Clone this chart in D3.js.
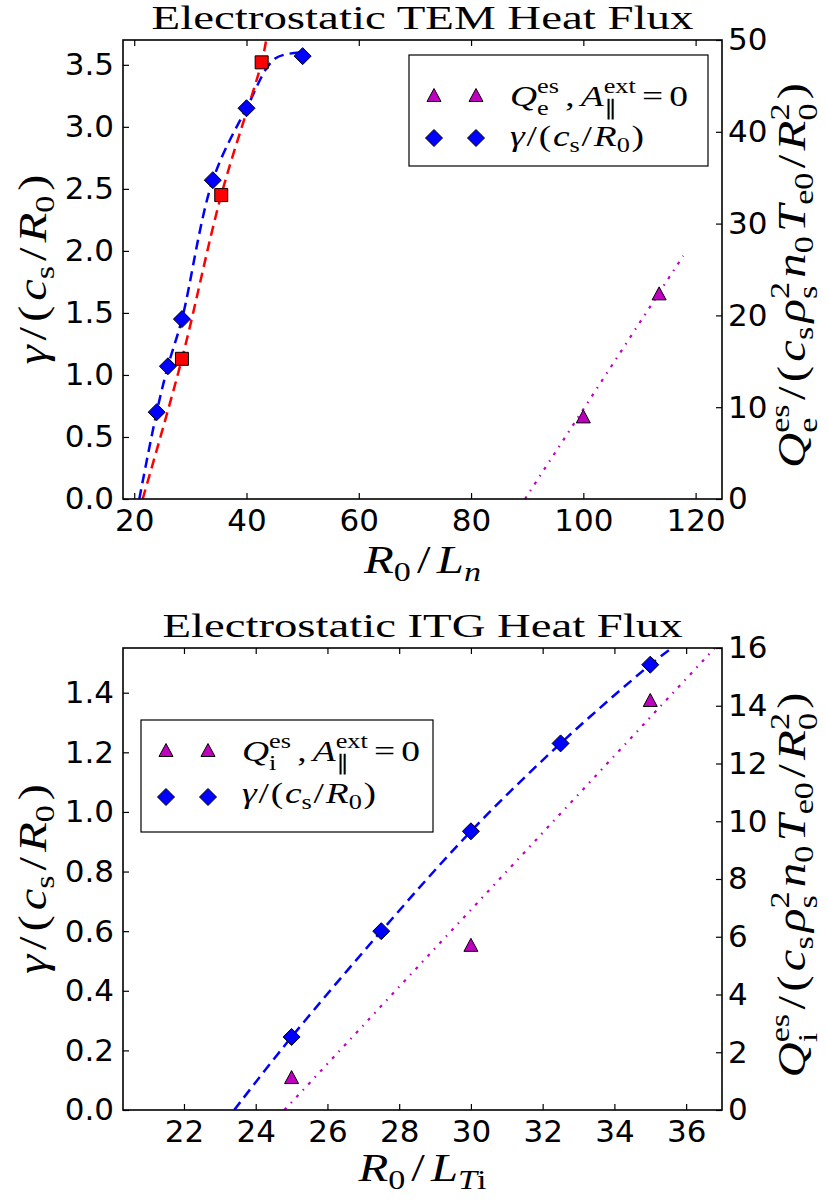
<!DOCTYPE html>
<html>
<head>
<meta charset="utf-8">
<script src="https://cdn.jsdelivr.net/npm/d3@7"></script>
<style>
  body { margin: 0; background: #fff; }
  .tick text { font-family: "DejaVu Sans", sans-serif; font-size: 31px; fill: #000; }
  .math text { font-family: "Liberation Serif", serif; fill: #000; white-space: pre; }
</style>
</head>
<body>
<svg id="chart" width="828" height="1203"></svg>
<script>
// ---- data ----
// TEM panel
var temGammaX = [24, 26, 28.5, 34, 40, 50];
var temGammaY = [0.70, 1.07, 1.45, 2.57, 3.15, 3.57];
var temSquareX = [28.5, 35.5, 42.7];
var temSquareY = [1.13, 2.45, 3.52];
var temFluxX = [100, 113.5];
var temFluxY = [9.0, 22.4];
var temGammaFitX = [20.9, 24, 26, 28.5, 34, 40, 45.1, 50];
var temGammaFitY = [0, 0.70, 1.07, 1.45, 2.57, 3.15, 3.55, 3.6];
var temSquareFitX = [21.5, 28.5, 35.5, 42.7, 43.5];
var temSquareFitY = [0, 1.13, 2.45, 3.52, 3.7];
var temFluxFitX = [89.6, 117.8];
var temFluxFitY = [0, 26.5];
var temXTicks = [20, 40, 60, 80, 100, 120];
var temYTicks = [0, 0.5, 1.0, 1.5, 2.0, 2.5, 3.0, 3.5];
var temY2Ticks = [0, 10, 20, 30, 40, 50];

// ITG panel
var itgGammaX = [25, 27.5, 30, 32.5, 35];
var itgGammaY = [0.245, 0.60, 0.935, 1.23, 1.494];
var itgFluxX = [25, 30, 35];
var itgFluxY = [1.14, 5.72, 14.2];
var itgGammaFitX = [23.4, 25, 27.5, 30, 32.5, 35, 35.6];
var itgGammaFitY = [0, 0.245, 0.60, 0.935, 1.23, 1.494, 1.55];
var itgFluxFitX = [24.8, 36.8];
var itgFluxFitY = [0, 16];
var itgXTicks = [22, 24, 26, 28, 30, 32, 34, 36];
var itgYTicks = [0, 0.2, 0.4, 0.6, 0.8, 1.0, 1.2, 1.4];
var itgY2Ticks = [0, 2, 4, 6, 8, 10, 12, 14, 16];

var blue = "#0000ff", red = "#ff0000", magenta = "#bf00bf";

var svg = d3.select("#chart");
var axLeft = 123, axRight = 722;

// lay out a small "math" string from segments, baseline at y=0.
// len = target width; reached with a slight stretch plus extra space before main-size symbols
function mathText(parent, segs, size, anchor, len) {
  var outer = parent.append("g").attr("class", "math");
  var g = outer.append("g");
  var units = [], pending = null;
  segs.forEach(function(s) {
    var fs = s.lv ? size * 0.7 : size;
    var dy = 0;
    if (s.lv == "sup") dy = -0.42 * size;
    if (s.lv == "sub") dy = s.both ? 0.3 * size : 0.2 * size;
    var t = g.append("text").attr("y", dy)
      .attr("font-size", fs)
      .attr("font-style", s.f == "i" ? "italic" : "normal")
      .text(s.t);
    var w = t.node().getComputedTextLength();
    if (s.stack) { pending = {nodes: [t], w: w, main: false}; return; }
    if (pending) { pending.nodes.push(t); pending.w = Math.max(pending.w, w); units.push(pending); pending = null; }
    else units.push({nodes: [t], w: w, main: !s.lv});
  });
  var W = d3.sum(units, function(u) { return u.w; });
  var nGaps = units.filter(function(u, i) { return i > 0 && u.main; }).length;
  var sx = 1, gap = 0;
  if (len) {
    sx = Math.min(len / W, 1.25);
    gap = nGaps ? (len / sx - W) / nGaps : 0;
  }
  var x = 0;
  units.forEach(function(u, i) {
    if (i > 0 && u.main) x += gap;
    u.nodes.forEach(function(t) { t.attr("x", x); });
    x += u.w;
  });
  var shift = anchor == "middle" ? -x / 2 : 0;
  g.attr("transform", "scale(" + sx + ",1) translate(" + shift + ",0)");
  return outer;
}

function marker(sel, shape, color, cx, cy) {
  var p;
  if (shape == "D") p = "M0,-8.5L8.5,0L0,8.5L-8.5,0Z";
  else if (shape == "s") p = "M-6.5,-6.5H6.5V6.5H-6.5Z";
  else p = "M0,-6.5L7,6.5L-7,6.5Z";
  sel.append("path").attr("d", p)
    .attr("transform", "translate(" + cx + "," + cy + ")")
    .attr("fill", color).attr("stroke", "#000").attr("stroke-width", 1);
}

var gammaSegs = [{t:"γ",f:"i"},{t:"/",f:"r"},{t:"(",f:"r"},{t:"c",f:"i"},{t:"s",lv:"sub"},{t:"/",f:"r"},{t:"R",f:"i"},{t:"0",lv:"sub"},{t:")",f:"r"}];
function fluxSegs(sp) {
  return [{t:"Q",f:"i"},{t:"es",lv:"sup",stack:true},{t:sp,lv:"sub",both:true},{t:"/",f:"r"},{t:"(",f:"r"},{t:"c",f:"i"},{t:"s",lv:"sub"},
    {t:"ρ",f:"i"},{t:"2",lv:"sup",stack:true},{t:"s",lv:"sub",both:true},{t:"n",f:"i"},{t:"0",lv:"sub"},
    {t:"T",f:"i"},{t:"e0",lv:"sub"},{t:"/",f:"r"},{t:"R",f:"i"},{t:"2",lv:"sup",stack:true},{t:"0",lv:"sub",both:true},{t:")",f:"r"}];
}
function legendSegs(sp) {
  return [{t:"Q",f:"i"},{t:"es",lv:"sup",stack:true},{t:sp,lv:"sub",both:true},{t:",",f:"r"},{t:"A",f:"i"},
    {t:"ext",lv:"sup",stack:true},{t:"∥",lv:"sub",both:true},{t:"=",f:"r"},{t:"0",f:"r"}];
}

function drawPanel(p) {
  var x = d3.scaleLinear().domain(p.xDomain).range([axLeft, axRight]);
  var yL = d3.scaleLinear().domain(p.yLeft).range([p.bottom, p.top]);
  var yR = d3.scaleLinear().domain(p.yRight).range([p.bottom, p.top]);

  svg.append("clipPath").attr("id", "clip" + p.id)
    .append("rect").attr("x", axLeft).attr("y", p.top)
    .attr("width", axRight - axLeft).attr("height", p.bottom - p.top);
  var plot = svg.append("g").attr("clip-path", "url(#clip" + p.id + ")");

  p.lines.forEach(function(l) {
    var ys = l.axis == "right" ? yR : yL;
    var pts = l.x.map(function(v, i) { return [v, l.y[i]]; });
    plot.append("path").datum(pts)
      .attr("d", d3.line().x(function(d) { return x(d[0]); }).y(function(d) { return ys(d[1]); })
        .curve(l.smooth ? d3.curveCatmullRom : d3.curveLinear))
      .attr("fill", "none").attr("stroke", l.color)
      .attr("stroke-width", l.width).attr("stroke-dasharray", l.dash);
  });

  p.points.forEach(function(s) {
    var ys = s.axis == "right" ? yR : yL;
    s.x.forEach(function(v, i) { marker(plot, s.shape, s.color, x(v), ys(s.y[i])); });
  });

  // axes with inward ticks
  svg.append("g").attr("transform", "translate(0," + p.bottom + ")")
    .call(d3.axisBottom(x).tickValues(p.xTicks).tickSize(-6).tickPadding(10).tickFormat(d3.format("d")));
  svg.append("g").attr("transform", "translate(0," + p.top + ")")
    .call(d3.axisTop(x).tickValues(p.xTicks).tickSize(-6).tickFormat(""));
  svg.append("g").attr("transform", "translate(" + axLeft + ",0)")
    .call(d3.axisLeft(yL).tickValues(p.yTicks).tickSize(-6).tickPadding(9).tickFormat(d3.format(".1f")));
  svg.append("g").attr("transform", "translate(" + axRight + ",0)")
    .call(d3.axisRight(yR).tickValues(p.y2Ticks).tickSize(-6).tickPadding(6).tickFormat(d3.format("d")));
  svg.selectAll(".domain").remove();
  svg.selectAll(".tick line").attr("stroke", "#000").attr("stroke-width", 1.2);

  svg.append("rect").attr("x", axLeft).attr("y", p.top)
    .attr("width", axRight - axLeft).attr("height", p.bottom - p.top)
    .attr("fill", "none").attr("stroke", "#000").attr("stroke-width", 1.6);

  // title
  svg.append("text").attr("x", (axLeft + axRight) / 2).attr("y", p.titleY)
    .attr("text-anchor", "middle").attr("font-family", "Liberation Serif").attr("font-size", 33)
    .attr("textLength", p.titleLen).attr("lengthAdjust", "spacingAndGlyphs")
    .text(p.title);

  // axis labels
  mathText(svg, p.xLabel, 39, "middle", p.xLabelLen)
    .attr("transform", "translate(" + (axLeft + axRight) / 2 + "," + p.xLabelY + ")");
  mathText(svg, gammaSegs, 39, "middle", 190)
    .attr("transform", "translate(46," + (p.top + p.bottom) / 2 + ") rotate(-90)");
  mathText(svg, p.y2Label, 39, "middle", 385)
    .attr("transform", "translate(805," + ((p.top + p.bottom) / 2 + 6) + ") rotate(-90)");

  // legend
  var L = p.legend;
  svg.append("rect").attr("x", L.x).attr("y", L.y).attr("width", L.w).attr("height", L.h)
    .attr("fill", "#fff").attr("stroke", "#000").attr("stroke-width", 1.2);
  L.rows.forEach(function(r) {
    marker(svg, r.shape, r.color, L.x + 25, r.cy);
    marker(svg, r.shape, r.color, L.x + 67, r.cy);
    mathText(svg, r.segs, 30, "start", r.len).attr("transform", "translate(" + (L.x + 101) + "," + r.base + ")");
  });
}

drawPanel({
  id: "tem", top: 40, bottom: 499,
  xDomain: [18, 124.7], yLeft: [0, 3.7], yRight: [0, 50],
  xTicks: temXTicks, yTicks: temYTicks, y2Ticks: temY2Ticks,
  title: "Electrostatic TEM Heat Flux", titleY: 29, titleLen: 542,
  xLabel: [{t:"R",f:"i"},{t:"0",lv:"sub"},{t:"/",f:"r"},{t:"L",f:"i"},{t:"n",lv:"sub",f:"i"}], xLabelY: 573, xLabelLen: 117,
  y2Label: fluxSegs("e"),
  lines: [
    {x: temGammaFitX, y: temGammaFitY, color: blue, dash: "10,6", width: 2.5, smooth: true},
    {x: temSquareFitX, y: temSquareFitY, color: red, dash: "10,6", width: 2.5, smooth: true},
    {x: temFluxFitX, y: temFluxFitY, axis: "right", color: magenta, dash: "3,6.5,1.5,6.5", width: 2.2}
  ],
  points: [
    {x: temSquareX, y: temSquareY, shape: "s", color: red},
    {x: temGammaX, y: temGammaY, shape: "D", color: blue},
    {x: temFluxX, y: temFluxY, axis: "right", shape: "^", color: magenta}
  ],
  legend: {x: 409, y: 55, w: 299, h: 111, rows: [
    {shape: "^", color: magenta, cy: 95, base: 106, len: 178, segs: legendSegs("e")},
    {shape: "D", color: blue, cy: 138, base: 146, len: 134, segs: gammaSegs}
  ]}
});

drawPanel({
  id: "itg", top: 648, bottom: 1110,
  xDomain: [20.3, 37], yLeft: [0, 1.55], yRight: [0, 16],
  xTicks: itgXTicks, yTicks: itgYTicks, y2Ticks: itgY2Ticks,
  title: "Electrostatic ITG Heat Flux", titleY: 637, titleLen: 520,
  xLabel: [{t:"R",f:"i"},{t:"0",lv:"sub"},{t:"/",f:"r"},{t:"L",f:"i"},{t:"T",lv:"sub",f:"i"},{t:"i",lv:"sub"}], xLabelY: 1181, xLabelLen: 128,
  y2Label: fluxSegs("i"),
  lines: [
    {x: itgGammaFitX, y: itgGammaFitY, color: blue, dash: "10,6", width: 2.5, smooth: true},
    {x: itgFluxFitX, y: itgFluxFitY, axis: "right", color: magenta, dash: "3,6.5,1.5,6.5", width: 2.2}
  ],
  points: [
    {x: itgGammaX, y: itgGammaY, shape: "D", color: blue},
    {x: itgFluxX, y: itgFluxY, axis: "right", shape: "^", color: magenta}
  ],
  legend: {x: 141, y: 720, w: 292, h: 112, rows: [
    {shape: "^", color: magenta, cy: 750, base: 761, len: 178, segs: legendSegs("i")},
    {shape: "D", color: blue, cy: 797, base: 803, len: 134, segs: gammaSegs}
  ]}
});
</script>
</body>
</html>
